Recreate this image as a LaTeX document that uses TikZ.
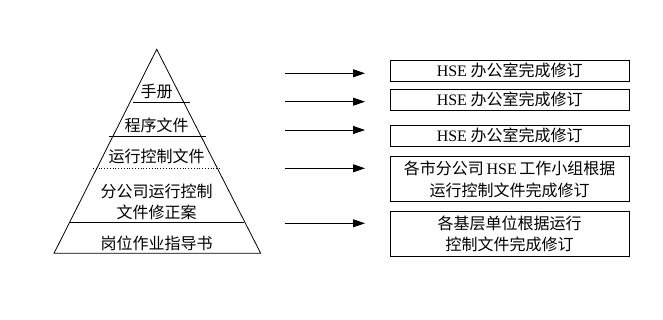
\documentclass[tikz,border=0pt]{standalone}
\usepackage{fontspec}
\setmainfont{Noto Sans CJK SC}
\newfontfamily\latinserif{Liberation Serif}
\usetikzlibrary{arrows.meta}
\newcommand\hsetext{{\latinserif HSE}}
\begin{document}
\begin{tikzpicture}[x=1pt,y=-1pt,
  every node/.style={font=\fontsize{16}{21.5}\selectfont, inner sep=0pt},
  thinline/.style={line width=0.8pt, black},
  lbl/.style={align=center},
  box/.style={draw, thinline, minimum width=239pt, align=center},
  arr/.style={thinline, -{Triangle[length=12pt,width=8pt]}}]
\useasboundingbox (0,0) rectangle (663,320);
% pyramid
\coordinate (apex) at (156.7,49.3);
\coordinate (bl) at (54,253.3);
\coordinate (br) at (260.7,253.3);
\draw[thinline] (apex) -- (bl) -- (br) -- cycle;
\coordinate (d1l) at (133,102.7); \coordinate (d1r) at (190,102.7);
\coordinate (d2l) at (109,136.7); \coordinate (d2r) at (205.7,136.7);
\coordinate (d3l) at (93,168.3); \coordinate (d3r) at (221.7,168.3);
\coordinate (d4l) at (70,222.7); \coordinate (d4r) at (244,222.7);
\draw[thinline] (d1l) -- (d1r);
\draw[thinline] (d2l) -- (d2r);
\draw[thinline, dotted] (d3l) -- (d3r);
\draw[thinline] (d4l) -- (d4r);
\node[lbl] (p1) at (156.7,91.7) {手册};
\node[lbl] (p2) at (156.7,125) {程序文件};
\node[lbl] (p3) at (156.7,156.7) {运行控制文件};
\node[lbl] (p4) at (156.7,201.7) {分公司运行控制\\文件修正案};
\node[lbl] (p5) at (156.7,243.3) {岗位作业指导书};
% boxes
\node[box, minimum height=21pt] (b1) at (509.7,70.5) {\hsetext\ 办公室完成修订};
\node[box, minimum height=20.7pt] (b2) at (509.7,99.7) {\hsetext\ 办公室完成修订};
\node[box, minimum height=21.7pt] (b3) at (509.7,135.8) {\hsetext\ 办公室完成修订};
\node[box, minimum height=45pt] (b4) at (509.7,179.2) {各市分公司\,\hsetext\,工作小组根据\\运行控制文件完成修订};
\node[box, minimum height=44.3pt] (b5) at (509.7,233.8) {各基层单位根据运行\\控制文件完成修订};
% arrows
\foreach \i/\y in {1/73.3, 2/101.7, 3/130, 4/168.3, 5/223.3} {
  \coordinate (s\i) at (285,\y);
  \coordinate (e\i) at (365,\y);
  \draw[arr] (s\i) -- (e\i);
}
\end{tikzpicture}
\end{document}
